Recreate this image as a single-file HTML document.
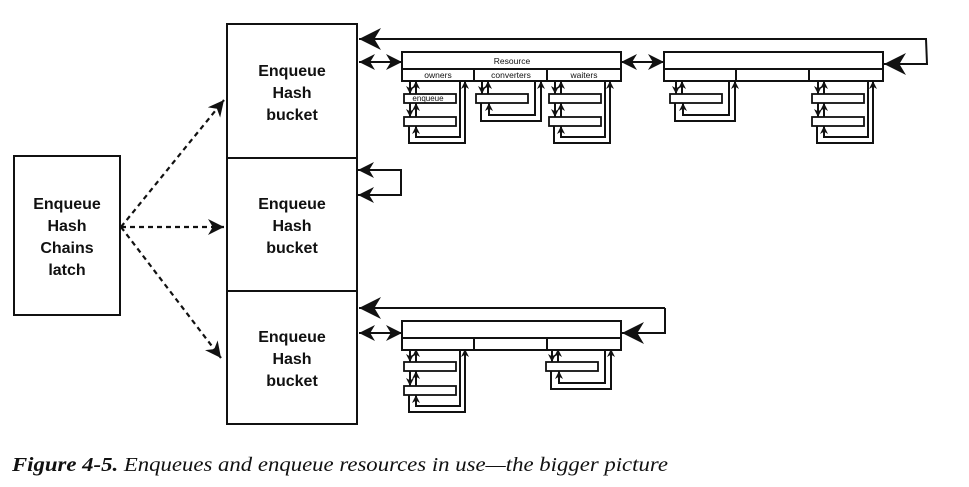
<!DOCTYPE html>
<html><head><meta charset="utf-8"><style>
html,body{margin:0;padding:0;background:#fff;}
svg{display:block;}
text{font-family:"Liberation Sans",sans-serif;fill:#111;}
.b{font-weight:bold;font-size:16px;}
</style></head><body>
<svg id="s" width="969" height="487" viewBox="0 0 969 487" xmlns="http://www.w3.org/2000/svg">
<defs>
<marker id="ab" viewBox="0 0 10 10" refX="10" refY="5" markerWidth="16" markerHeight="16" markerUnits="userSpaceOnUse" orient="auto"><path d="M0,0 L10,5 L0,10 L3,5 z" fill="#111"/></marker>
<marker id="as" viewBox="0 0 10 10" refX="10" refY="5" markerWidth="8" markerHeight="8" markerUnits="userSpaceOnUse" orient="auto"><path d="M0,0 L10,5 L0,10 L3,5 z" fill="#111"/></marker>
<marker id="al" viewBox="0 0 10 10" refX="10" refY="5" markerWidth="22" markerHeight="22" markerUnits="userSpaceOnUse" orient="auto"><path d="M0,0 L10,5 L0,10 L3,5 z" fill="#111"/></marker>
<marker id="abs" viewBox="0 0 10 10" refX="0" refY="5" markerWidth="16" markerHeight="16" markerUnits="userSpaceOnUse" orient="auto"><path d="M10,0 L0,5 L10,10 L7,5 z" fill="#111"/></marker>
</defs>
<g fill="none" stroke="#111" stroke-width="2">
<rect x="14" y="156" width="106" height="159"/>
<rect x="227" y="24" width="130" height="400"/>
<line x1="227" y1="158" x2="357" y2="158"/>
<line x1="227" y1="291" x2="357" y2="291"/>
</g>
<g stroke="#111" stroke-width="2.2" stroke-dasharray="5,4" fill="none">
<line x1="121" y1="227" x2="224" y2="100" marker-end="url(#ab)"/>
<line x1="121" y1="227" x2="224" y2="227" marker-end="url(#ab)"/>
<line x1="121" y1="227" x2="221" y2="358" marker-end="url(#ab)"/>
</g>
<g class="b" text-anchor="middle">
<text x="67" y="209">Enqueue</text><text x="67" y="231">Hash</text><text x="67" y="253">Chains</text><text x="67" y="275">latch</text>
<text x="292" y="76">Enqueue</text><text x="292" y="98">Hash</text><text x="292" y="120">bucket</text>
<text x="292" y="209">Enqueue</text><text x="292" y="231">Hash</text><text x="292" y="253">bucket</text>
<text x="292" y="342">Enqueue</text><text x="292" y="364">Hash</text><text x="292" y="386">bucket</text>
</g>
<g id="d" fill="none" stroke="#111" stroke-width="2"></g>
<g font-size="8.5" text-anchor="middle">
<text x="512" y="64">Resource</text>
<text x="438" y="78">owners</text><text x="511" y="78">converters</text><text x="584" y="78">waiters</text>
<text x="428" y="101" font-size="8">enqueue</text>
</g>
<text x="12" y="471" textLength="656" lengthAdjust="spacingAndGlyphs" style="font-family:'Liberation Serif',serif;font-size:20px;font-style:italic;"><tspan style="font-weight:bold">Figure 4-5.</tspan> Enqueues and enqueue resources in use—the bigger picture</text>
</svg>
<script>
var g=document.getElementById('d'),NS='http://www.w3.org/2000/svg';
function el(t,a){var e=document.createElementNS(NS,t);for(var k in a)e.setAttribute(k,a[k]);g.appendChild(e);return e;}
function ln(x1,y1,x2,y2,m,ms){var a={x1:x1,y1:y1,x2:x2,y2:y2};if(m)a['marker-end']='url(#'+m+')';if(ms)a['marker-start']='url(#'+ms+')';el('line',a);}
function pl(pts,m){var a={points:pts};if(m)a['marker-end']='url(#'+m+')';el('polyline',a);}
function res(x,y){el('rect',{x:x,y:y,width:219,height:29});ln(x,y+17,x+219,y+17);ln(x+72,y+17,x+72,y+29);ln(x+145,y+17,x+145,y+29);}
function col(x0,hb,boxes){
  var prev=hb;
  boxes.forEach(function(by){
    el('rect',{x:x0,y:by,width:52,height:9,'stroke-width':1.8});
    ln(x0+6,prev,x0+6,by,'as');ln(x0+12,by,x0+12,prev,'as');
    prev=by+9;
  });
  var lb=prev;
  if(boxes.length==2){
    pl((x0+56)+','+hb+' '+(x0+56)+','+(lb+11)+' '+(x0+12)+','+(lb+11)+' '+(x0+12)+','+lb,'as');
    pl((x0+5)+','+lb+' '+(x0+5)+','+(lb+17)+' '+(x0+61)+','+(lb+17)+' '+(x0+61)+','+hb,'as');
  } else {
    pl((x0+59)+','+hb+' '+(x0+59)+','+(lb+12)+' '+(x0+13)+','+(lb+12)+' '+(x0+13)+','+lb,'as');
    pl((x0+5)+','+lb+' '+(x0+5)+','+(lb+18)+' '+(x0+65)+','+(lb+18)+' '+(x0+65)+','+hb,'as');
  }
}
res(402,52);res(664,52);
ln(359,62,402,62,'ab','abs');ln(621,62,664,62,'ab','abs');
ln(927,39,359,39,'al');pl('926,39 927,64 884,64','al');
col(404,81,[94,117]);col(476,81,[94]);col(549,81,[94,117]);
col(670,81,[94]);col(812,81,[94,117]);
pl('358,170 401,170 401,195 358,195','ab');ln(380,170,358,170,'ab');
res(402,321);
ln(359,333,402,333,'ab','abs');
ln(665,308,359,308,'al');pl('665,308 665,333 622,333','al');
col(404,349,[362,386]);col(546,349,[362]);
</script>
</body></html>
